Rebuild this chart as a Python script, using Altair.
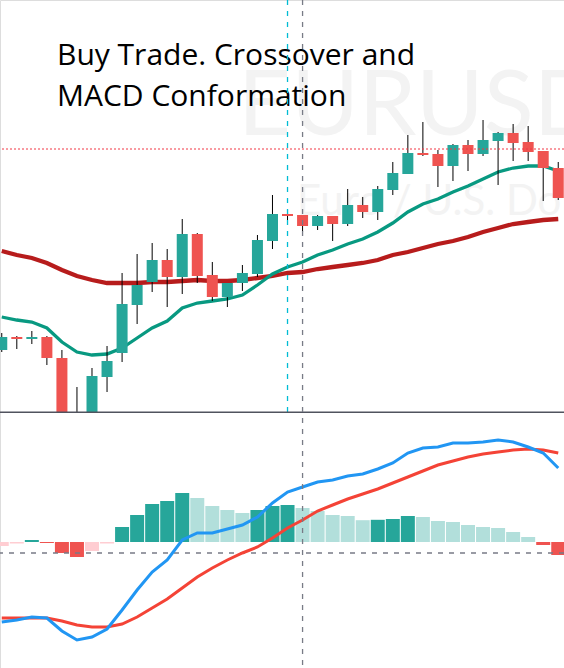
import altair as alt
import pandas as pd

# ---- data (EURUSD, bar index 0..37) ----
bar_index = list(range(38))
open_ = [1.0863, 1.0876, 1.0874, 1.0876, 1.0855, 1.0783, 1.0788, 1.0836, 1.0860, 1.0908,
         1.0931, 1.0953, 1.0936, 1.0979, 1.0938, 1.0916, 1.0930, 1.0939, 1.0972, 1.0999,
         1.0998, 1.0987, 1.0997, 1.0989, 1.1008, 1.1001, 1.1023, 1.1039, 1.1060, 1.1059,
         1.1047, 1.1068, 1.1059, 1.1072, 1.1080, 1.1071, 1.1062, 1.1045]
high_ = [1.0880, 1.0877, 1.0882, 1.0877, 1.0863, 1.0826, 1.0845, 1.0867, 1.0940, 1.0959,
         1.0970, 1.0964, 1.0994, 1.0980, 1.0951, 1.0930, 1.0948, 1.0978, 1.1018, 1.1003,
         1.0998, 1.0998, 1.0997, 1.1024, 1.1016, 1.1027, 1.1051, 1.1078, 1.1091, 1.1063,
         1.1069, 1.1073, 1.1093, 1.1081, 1.1089, 1.1087, 1.1062, 1.1051]
low_ = [1.0861, 1.0864, 1.0869, 1.0848, 1.0773, 1.0770, 1.0781, 1.0821, 1.0851, 1.0889,
        1.0921, 1.0906, 1.0919, 1.0930, 1.0912, 1.0906, 1.0922, 1.0936, 1.0964, 1.0993,
        1.0981, 1.0983, 1.0972, 1.0987, 1.0995, 1.0993, 1.1018, 1.1039, 1.1057, 1.1026,
        1.1032, 1.1042, 1.1057, 1.1028, 1.1052, 1.1052, 1.1012, 1.1013]
close_ = [1.0876, 1.0874, 1.0876, 1.0855, 1.0783, 1.0788, 1.0837, 1.0852, 1.0909, 1.0928,
          1.0953, 1.0936, 1.0979, 1.0937, 1.0916, 1.0930, 1.0940, 1.0973, 1.0999, 1.0997,
          1.0987, 1.0997, 1.0989, 1.1008, 1.1001, 1.1024, 1.1040, 1.1060, 1.1058, 1.1047,
          1.1068, 1.1059, 1.1073, 1.1080, 1.1070, 1.1061, 1.1045, 1.1015]
ma_fast = [1.0896, 1.0893, 1.0891, 1.0885, 1.0871, 1.0861, 1.0858, 1.0859, 1.0865, 1.0875,
           1.0885, 1.0892, 1.0905, 1.0910, 1.0912, 1.0914, 1.0918, 1.0928, 1.0939, 1.0946,
           1.0951, 1.0958, 1.0963, 1.0969, 1.0974, 1.0981, 1.0990, 1.1001, 1.1009, 1.1014,
           1.1021, 1.1027, 1.1034, 1.1041, 1.1045, 1.1047, 1.1047, 1.1042]
ma_slow = [1.0962, 1.0958, 1.0955, 1.0950, 1.0943, 1.0937, 1.0933, 1.0930, 1.0930, 1.0930,
           1.0931, 1.0931, 1.0932, 1.0933, 1.0932, 1.0932, 1.0933, 1.0935, 1.0937, 1.0940,
           1.0941, 1.0944, 1.0946, 1.0948, 1.0950, 1.0953, 1.0958, 1.0961, 1.0965, 1.0969,
           1.0972, 1.0976, 1.0981, 1.0985, 1.0989, 1.0991, 1.0993, 1.0994]
macd_hist = [-0.00004, -0.000015, 0.00002, -0.00001, -0.00011, -0.00015, -0.00009, -0.000015,
             0.00015, 0.00027, 0.00038, 0.00041, 0.00049, 0.00044, 0.00036, 0.00032, 0.00029,
             0.00032, 0.00036, 0.00037, 0.00034, 0.00031, 0.00027, 0.00026, 0.000218, 0.000222,
             0.00023, 0.00026, 0.00025, 0.00021, 0.00020, 0.00017, 0.00015, 0.00014, 0.00010,
             0.00005, -0.00003, -0.00013]
macd_line = [-0.00080, -0.00078, -0.00075, -0.00076, -0.00089, -0.00098, -0.00095, -0.00087,
             -0.00068, -0.00048, -0.00030, -0.00018, 0.00002, 0.00009, 0.00009, 0.00013,
             0.00017, 0.00025, 0.00039, 0.00050, 0.00055, 0.00060, 0.00062, 0.00066, 0.00068,
             0.00073, 0.00079, 0.00089, 0.00094, 0.00095, 0.00099, 0.00099, 0.00100, 0.00102,
             0.00100, 0.00095, 0.00089, 0.00074]
signal_line = [-0.00076, -0.00076, -0.00076, -0.00076, -0.00079, -0.00083, -0.00085, -0.00085,
               -0.00082, -0.00075, -0.00066, -0.00057, -0.00046, -0.00035, -0.00026, -0.00018,
               -0.00011, -0.00005, 0.00004, 0.00014, 0.00022, 0.00031, 0.00037, 0.00043, 0.00048,
               0.00053, 0.00059, 0.00065, 0.00071, 0.00077, 0.00081, 0.00085, 0.00088, 0.00090,
               0.00092, 0.00093, 0.00092, 0.00089]
cursor_bar_a = [19]
cursor_bar_b = [20]
level_price = [1.1064]
macd_dash_level = [-0.00011]
title_line1 = ["Buy Trade. Crossover and"]
title_line2 = ["MACD Conformation"]
watermark_big = ["EURUSD"]
watermark_small = ["Euro / U.S. Dollar"]

# ---- derived table ----
df = pd.DataFrame(dict(i=bar_index, open=open_, high=high_, low=low_, close=close_,
                       fast=ma_fast, slow=ma_slow, hist=macd_hist,
                       macd=macd_line, signal=signal_line))
df["body_lo"] = df[["open", "close"]].min(axis=1)
df["body_hi"] = df[["open", "close"]].max(axis=1)
df["body_col"] = ["#26A69A" if c >= o else "#EF5350" for o, c in zip(open_, close_)]
hcols = []
prev = -0.00005
for v in macd_hist:
    if v >= 0:
        hcols.append("#26A69A" if v > prev else "#B2DFDB")
    else:
        hcols.append("#EF5350" if v < prev else "#FFCDD2")
    prev = v
df["hist_col"] = hcols

W = 564
H = 668
PANE = 413  # price pane bottom edge

xs = alt.Scale(domain=[0.2156, 37.05], nice=False, zero=False)
X = alt.X("i:Q", scale=xs, axis=None)
yp = alt.Scale(domain=[1.0800, 1.1213], range=[PANE, 0], nice=False, zero=False, clamp=True)
ym = alt.Scale(domain=[-0.00126, 0.00129], range=[H, PANE], nice=False, zero=False)

base = alt.Chart(df)


def text_layer(values, size, color, x, y, font="Open Sans"):
    return alt.Chart(pd.DataFrame({"t": values})).mark_text(
        font=font, fontSize=size, color=color, align="left", baseline="alphabetic"
    ).encode(x=alt.value(x), y=alt.value(y), text="t:N")


# -- price pane --
wm1 = text_layer(watermark_big, 92, "#F3F3F3", 238, 135, font="Lato")
wm2 = text_layer(watermark_small, 42, "#F3F3F3", 297, 215, font="Lato")
t1 = text_layer(title_line1, 30, "#000000", 57, 65)
t2 = text_layer(title_line2, 30, "#000000", 57, 106)

slow = base.mark_line(color="#B71C1C", strokeWidth=4.3).encode(
    x=X, y=alt.Y("slow:Q", scale=yp, axis=None))
fast = base.mark_line(color="#089981", strokeWidth=3.3).encode(
    x=X, y=alt.Y("fast:Q", scale=yp, axis=None))
wicks = base.mark_rule(color="#000000", strokeWidth=1).encode(
    x=X, y=alt.Y("high:Q", scale=yp, axis=None), y2="low:Q")
bodies = base.mark_bar(size=11).encode(
    x=X, y=alt.Y("body_lo:Q", scale=yp, axis=None), y2="body_hi:Q",
    color=alt.Color("body_col:N", scale=None))
level = alt.Chart(pd.DataFrame({"p": level_price})).mark_rule(
    color="#F23645", strokeWidth=1, strokeDash=[2, 2]
).encode(y=alt.Y("p:Q", scale=yp, axis=None))
cur_a = alt.Chart(pd.DataFrame({"i": cursor_bar_a})).mark_rule(
    color="#00BCD4", strokeWidth=1.3, strokeDash=[5, 6]).encode(
    x=X, y=alt.value(0), y2=alt.value(PANE))
sep = alt.Chart(pd.DataFrame({"a": [0]})).mark_rule(color="#50535E", strokeWidth=1.6).encode(
    x=alt.value(0), x2=alt.value(W), y=alt.value(PANE - 0.8))

# -- MACD pane --
hist = base.mark_bar(size=14).encode(
    x=X, y=alt.Y("hist:Q", scale=ym, axis=None), y2=alt.datum(0),
    color=alt.Color("hist_col:N", scale=None))
zero_dash = alt.Chart(pd.DataFrame({"v": macd_dash_level})).mark_rule(
    color="#787B86", strokeWidth=1.3, strokeDash=[5, 6]
).encode(y=alt.Y("v:Q", scale=ym, axis=None))
sig = base.mark_line(color="#F44336", strokeWidth=3).encode(
    x=X, y=alt.Y("signal:Q", scale=ym, axis=None))
mac = base.mark_line(color="#2196F3", strokeWidth=3).encode(
    x=X, y=alt.Y("macd:Q", scale=ym, axis=None))
cur_b = alt.Chart(pd.DataFrame({"i": cursor_bar_b})).mark_rule(
    color="#787B86", strokeWidth=1.3, strokeDash=[5, 6]).encode(
    x=X, y=alt.value(0), y2=alt.value(H))

chart = alt.layer(
    wm1, wm2, t1, t2, slow, fast, wicks, bodies, level, cur_a, sep,
    hist, zero_dash, sig, mac, cur_b
).resolve_scale(y="independent").properties(
    width=W, height=H, padding=0,
    autosize=alt.AutoSizeParams(type="none", contains="padding"),
).configure_view(stroke="transparent", strokeWidth=0, strokeOpacity=0).configure(
    background="#FFFFFF")

chart.save("out.html", embed_options={"renderer": "svg", "actions": False})
